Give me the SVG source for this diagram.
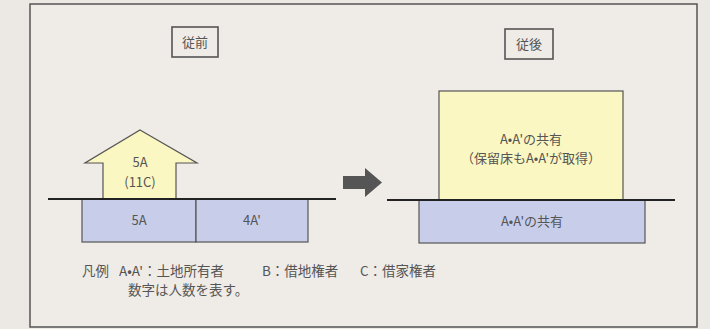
<svg xmlns="http://www.w3.org/2000/svg" width="710" height="329" viewBox="0 0 710 329">
  <style>
    text { font-family: "Noto Sans CJK JP", "Noto Sans", sans-serif; fill: #555; font-size: 13px; }
    .c { text-anchor: middle; }
    .lg { font-size: 13.5px; }
    .ln { stroke: #222; stroke-width: 1.8; fill: none; }
    .box { stroke: #555; stroke-width: 1.2; }
    .blue { fill: #c8cdea; }
    .yel { fill: #fbf7c2; }
  </style>
  <rect x="0" y="0" width="710" height="329" fill="#ece8e4"/>
  <rect x="30" y="4" width="667" height="323" fill="#efebe7" stroke="#555" stroke-width="1.5"/>

  <g id="label-before">
    <rect x="172" y="27" width="46" height="30" fill="none" stroke="#555" stroke-width="1.6"/>
    <text class="c" x="195" y="47">従前</text>
  </g>
  <g id="label-after">
    <rect x="505" y="29" width="48" height="30" fill="none" stroke="#555" stroke-width="1.6"/>
    <text class="c" x="529" y="49">従後</text>
  </g>

  <g id="building-before">
    <polygon class="box yel" points="140,130 197,163 176,163 176,199 103,199 103,163 85,163"/>
    <text class="c" x="140" y="167">5A</text>
    <text class="c" x="140" y="187">(11C)</text>
  </g>
  <g id="land-5A">
    <rect class="box blue" x="82" y="199" width="114" height="43"/>
    <text class="c" x="139" y="225">5A</text>
  </g>
  <g id="land-4A">
    <rect class="box blue" x="196" y="199" width="112" height="43"/>
    <text class="c" x="252" y="225">4A'</text>
  </g>

  <g id="building-after">
    <rect class="box yel" x="439" y="91" width="184" height="109"/>
    <text class="c" x="531" y="144">A•A'の共有</text>
    <text class="c" x="531" y="163">（保留床もA•A'が取得）</text>
  </g>
  <g id="land-after">
    <rect class="box blue" x="419" y="200" width="226" height="43"/>
    <text class="c" x="532" y="226">A•A'の共有</text>
  </g>

  <g id="connectors">
    <line class="ln" x1="48" y1="199" x2="336" y2="199"/>
    <line class="ln" x1="387" y1="200" x2="675" y2="200"/>
    <polygon points="343,176 365,176 365,168 382,182.5 365,197 365,189 343,189" fill="#555"/>
  </g>

  <g id="legend">
    <text class="lg" x="82" y="276">凡例</text>
    <text class="lg" x="119" y="276">A•A'：土地所有者</text>
    <text class="lg" x="262" y="276">B：借地権者</text>
    <text class="lg" x="360" y="276">C：借家権者</text>
    <text class="lg" x="128" y="295">数字は人数を表す。</text>
  </g>
</svg>
